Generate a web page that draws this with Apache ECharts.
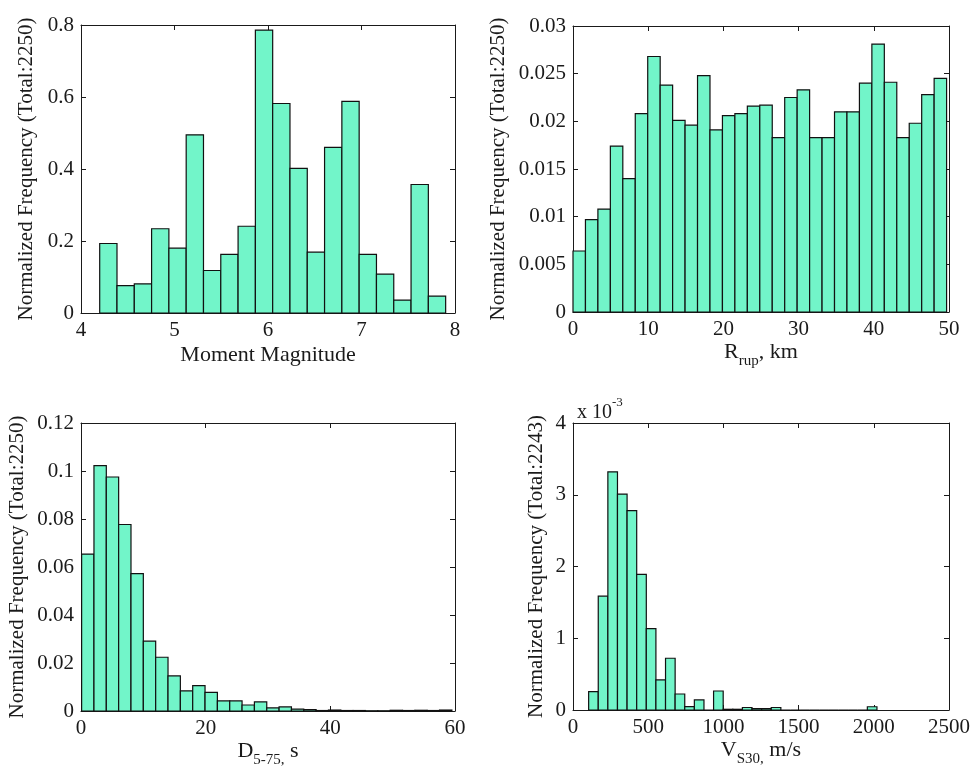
<!DOCTYPE html>
<html>
<head>
<meta charset="utf-8">
<script src="https://cdn.jsdelivr.net/npm/echarts@6/dist/echarts.min.js"></script>
<style>
html,body{margin:0;padding:0;background:#fff;}
#chart{width:975px;height:774px;}
</style>
</head>
<body>
<div id="chart"></div>
<script>
// ---- Data: histogram bins (start, width) and normalized frequencies ----
const magStart = 4.2, magWidth = 0.185;
const magValues = [0.193,0.076,0.081,0.234,0.180,0.495,0.118,0.163,0.241,0.786,
                   0.582,0.402,0.169,0.460,0.588,0.163,0.108,0.036,0.357,0.047];

const rrupStart = 0.0, rrupWidth = 1.656;
const rrupValues = [0.0064,0.0097,0.0108,0.0174,0.0140,0.0208,0.0268,0.0238,0.0201,0.0196,
                    0.0248,0.0191,0.0206,0.0208,0.0216,0.0217,0.0183,0.0225,0.0233,0.0183,
                    0.0183,0.0210,0.0210,0.0240,0.0281,0.0241,0.0183,0.0198,0.0228,0.0245];

const durStart = 0.1, durWidth = 1.98;
const durValues = [0.0654,0.1022,0.0975,0.0777,0.0572,0.0291,0.0224,0.0146,0.0084,0.0106,
                   0.0078,0.0042,0.0042,0.0025,0.0038,0.0013,0.0017,0.0008,0.0006,0.0002,
                   0.0004,0.0002,0.0002,0.0001,0.0001,0.0003,0.0002,0.0003,0.0002,0.0004];

const vsStart = 104, vsWidth = 63.9;
const vsValues = [0.000256,0.001586,0.003320,0.003010,0.002780,0.001890,0.001135,0.000419,0.000721,0.000223,
                  0.000047,0.000140,0.000000,0.000265,0.000010,0.000010,0.000035,0.000020,0.000020,0.000035,
                  0.000000,0.000000,0.000000,0.000000,0.000000,0.000000,0.000000,0.000000,0.000000,0.000045];

const yName = 'Normalized Frequency (Total:2250)';
const yName2 = 'Normalized Frequency (Total:2243)';

// ---- Helpers ----
const FONT = "'Liberation Serif','Times New Roman',serif";
const FILL = '#72f5c9';
const INK = '#1a1a1a';
function bins(start, width, values) {
  return values.map((v, i) => [start + i * width, start + (i + 1) * width, v]);
}
function renderBar(params, api) {
  const x0 = api.value(0), x1 = api.value(1), y = api.value(2);
  const p0 = api.coord([x0, y]);
  const p1 = api.coord([x1, 0]);
  return {
    type: 'rect',
    shape: {x: p0[0], y: p0[1], width: p1[0] - p0[0], height: p1[1] - p0[1]},
    style: {fill: FILL, stroke: '#111', lineWidth: 1.2}
  };
}
const grids = [
  {left: 81, top: 25, width: 374, height: 288},
  {left: 573, top: 26, width: 376, height: 286},
  {left: 81, top: 423, width: 374, height: 288},
  {left: 573, top: 423, width: 376, height: 287}
];
const lineStyle = {color: INK, width: 1};
const subRich = {
  a: {fontFamily: FONT, fontSize: 22, color: INK, verticalAlign: 'bottom', padding: [0, 0, 6, 0]},
  b: {fontFamily: FONT, fontSize: 15, color: INK, verticalAlign: 'bottom'}
};
function xAxes(g, min, max, interval, name, nameGap, fmt) {
  return [{
    type: 'value', gridIndex: g, min, max, interval, position: 'bottom',
    name, nameLocation: 'middle', nameGap,
    nameTextStyle: {fontFamily: FONT, fontSize: 22, color: INK, rich: subRich},
    axisLine: {show: true, onZero: false, lineStyle}, axisTick: {show: true, inside: true, length: 5, lineStyle},
    axisLabel: {fontFamily: FONT, fontSize: 21, color: INK, margin: 7, formatter: fmt || (v => String(v))},
    splitLine: {show: false}
  }, {
    type: 'value', gridIndex: g, min, max, interval, position: 'top',
    axisLine: {show: true, onZero: false, lineStyle}, axisTick: {show: true, inside: true, length: 5, lineStyle},
    axisLabel: {show: false}, splitLine: {show: false}
  }];
}
function yAxes(g, min, max, interval, name, nameGap, fmt) {
  return [{
    type: 'value', gridIndex: g, min, max, interval, position: 'left',
    name, nameLocation: 'middle', nameGap,
    nameTextStyle: {fontFamily: FONT, fontSize: 21, color: INK},
    axisLine: {show: true, onZero: false, lineStyle}, axisTick: {show: true, inside: true, length: 5, lineStyle},
    axisLabel: {fontFamily: FONT, fontSize: 21, color: INK, margin: 7, formatter: fmt || (v => String(v))},
    splitLine: {show: false}
  }, {
    type: 'value', gridIndex: g, min, max, interval, position: 'right',
    axisLine: {show: true, onZero: false, lineStyle}, axisTick: {show: true, inside: true, length: 5, lineStyle},
    axisLabel: {show: false}, splitLine: {show: false}
  }];
}
const r3 = v => String(Math.round(v * 10000) / 10000);

const option = {
  backgroundColor: '#fff',
  animation: false,
  title: {
    text: '{a|x 10}{s|-3}',
    left: 572, top: 391,
    textStyle: {
      fontWeight: 'normal',
      rich: {
        a: {fontFamily: FONT, fontSize: 20, fontWeight: 'normal', color: INK, verticalAlign: 'bottom', padding: [7, 0, 0, 0]},
        s: {fontFamily: FONT, fontSize: 13, fontWeight: 'normal', color: INK, verticalAlign: 'top'}
      }
    }
  },
  grid: grids,
  xAxis: [
    ...xAxes(0, 4, 8, 1, 'Moment Magnitude', 31),
    ...xAxes(1, 0, 50, 10, '{a|R}{b|rup}{a|, km}', 29),
    ...xAxes(2, 0, 60, 20, '{a|D}{b|5-75,}{a| s}', 29),
    ...xAxes(3, 0, 2500, 500, '{a|V}{b|S30,}{a| m/s}', 27)
  ],
  yAxis: [
    ...yAxes(0, 0, 0.8, 0.2, yName, 44, r3),
    ...yAxes(1, 0, 0.03, 0.005, yName, 64, r3),
    ...yAxes(2, 0, 0.12, 0.02, yName, 53, r3),
    ...yAxes(3, 0, 0.004, 0.001, yName2, 26, v => String(Math.round(v * 1000)))
  ],
  series: [
    {type: 'custom', xAxisIndex: 0, yAxisIndex: 0, renderItem: renderBar, encode: {x: [0, 1], y: 2}, data: bins(magStart, magWidth, magValues)},
    {type: 'custom', xAxisIndex: 2, yAxisIndex: 2, renderItem: renderBar, encode: {x: [0, 1], y: 2}, data: bins(rrupStart, rrupWidth, rrupValues)},
    {type: 'custom', xAxisIndex: 4, yAxisIndex: 4, renderItem: renderBar, encode: {x: [0, 1], y: 2}, data: bins(durStart, durWidth, durValues)},
    {type: 'custom', xAxisIndex: 6, yAxisIndex: 6, renderItem: renderBar, encode: {x: [0, 1], y: 2}, data: bins(vsStart, vsWidth, vsValues)}
  ]
};
const chart = echarts.init(document.getElementById('chart'), null, {renderer: 'canvas'});
chart.setOption(option);
</script>
</body>
</html>
